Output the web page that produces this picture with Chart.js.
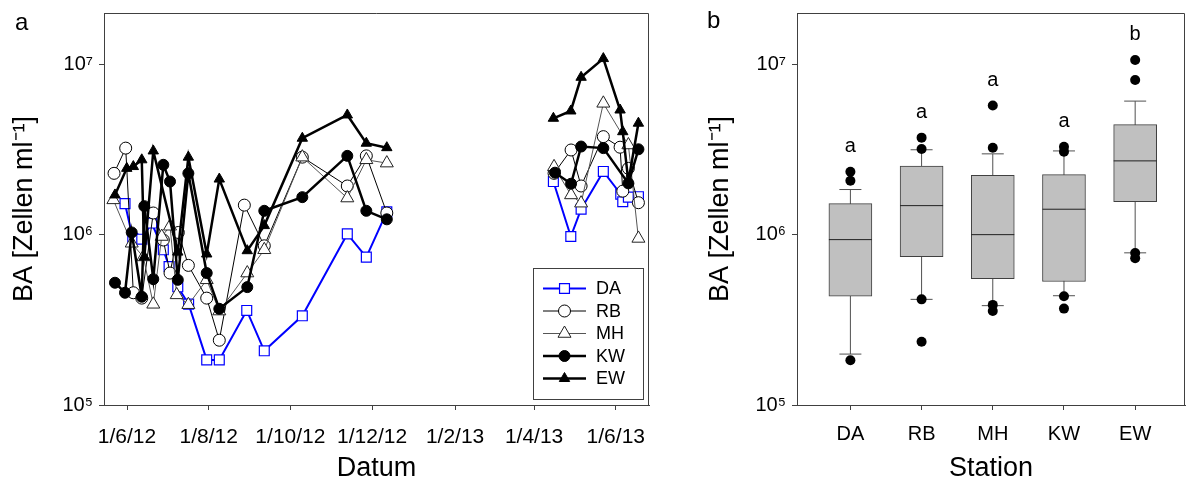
<!DOCTYPE html>
<html>
<head>
<meta charset="utf-8">
<script src="https://cdn.jsdelivr.net/npm/chart.js@4.4.1/dist/chart.umd.min.js"></script>
<style>
  body { margin: 0; background: #fff; }
  #wrap { position: relative; width: 1186px; height: 488px; overflow: hidden; }
  canvas { position: absolute; top: 0; }
  #left { left: 0; }
  #right { left: 690px; }
</style>
</head>
<body>
<div id="wrap">
  <canvas id="left" width="690" height="488"></canvas>
  <canvas id="right" width="496" height="488"></canvas>
</div>
<script>
// ---- panel a: days since 1/6/12 ----
const xTickDays = [0, 61, 122, 183, 245, 304, 365];
const xTickLabels = ['1/6/12', '1/8/12', '1/10/12', '1/12/12', '1/2/13', '1/4/13', '1/6/13'];
const yTickValues = [1e5, 1e6, 1e7];
const yTickLabels = ['10⁵', '10⁶', '10⁷'];

// null value = break between the 2012 and 2013 campaigns
const daDays = [-1.5, 4.3, 11.0, 18.4, 27.1, 31.4, 37.9, 46.0, 59.5, 68.9, 89.4, 102.5, 130.9, 164.5, 178.7, 194.0, 250, 318.4, 331.4, 339.1, 355.7, 368.7, 370.2, 374.4, 381.9];
const daVals = [1.52e6, 9.5e5, 9.4e5, 1.17e6, 8.15e5, 6.5e5, 4.94e5, 3.91e5, 1.84e5, 1.84e5, 3.59e5, 2.08e5, 3.34e5, 1.01e6, 7.38e5, 1.36e6, null, 2.05e6, 9.75e5, 1.41e6, 2.35e6, 1.73e6, 1.56e6, 1.66e6, 1.67e6];

const rbDays = [-9.7, -1.0, 4.7, 11.0, 19.6, 27.1, 32.1, 38.3, 45.8, 59.5, 68.9, 87.6, 102.5, 130.9, 164.5, 178.7, 194.0, 250, 318.9, 331.6, 339.1, 355.7, 368.2, 370.2, 374.4, 381.9];
const rbVals = [2.29e6, 3.22e6, 4.56e5, 4.24e5, 1.34e6, 9.3e5, 5.95e5, 1.03e6, 6.6e5, 4.24e5, 2.4e5, 1.49e6, 8.6e5, 2.85e6, 1.93e6, 2.9e6, 1.34e6, null, 2.29e6, 3.14e6, 1.93e6, 3.76e6, 3.26e6, 1.8e6, 2.45e6, 1.54e6];

const mhDays = [-10.2, 3.5, 12.2, 19.6, 25.9, 32.1, 37.1, 45.8, 59.5, 68.9, 89.8, 102.5, 130.9, 164.5, 178.7, 194.0, 250, 318.9, 331.6, 339.1, 355.7, 374.4, 381.9];
const mhVals = [1.6e6, 8.9e5, 7.4e5, 3.9e5, 9.75e5, 1.12e6, 4.43e5, 3.88e5, 5.43e5, 3.56e5, 5.95e5, 8.15e5, 2.85e6, 1.64e6, 2.75e6, 2.63e6, null, 2.5e6, 1.71e6, 1.53e6, 5.9e6, 3.36e6, 9.5e5];

const kwDays = [-9.0, -1.5, 3.5, 11.0, 12.9, 19.6, 27.1, 32.1, 37.9, 45.8, 59.5, 68.9, 89.8, 102.5, 130.9, 164.5, 178.7, 194.0, 250, 319.6, 331.6, 339.1, 355.7, 374.4, 381.9];
const kwVals = [5.22e5, 4.56e5, 1.03e6, 4.32e5, 1.47e6, 5.48e5, 2.57e6, 2.05e6, 5.43e5, 2.29e6, 5.95e5, 3.67e5, 4.92e5, 1.38e6, 1.66e6, 2.9e6, 1.38e6, 1.23e6, null, 2.31e6, 1.99e6, 3.29e6, 3.22e6, 2.0e6, 3.17e6];

const ewDays = [-9.0, -0.2, 4.7, 11.0, 12.9, 19.6, 37.9, 45.8, 59.5, 68.9, 89.8, 102.5, 130.9, 164.5, 178.7, 194.0, 250, 318.4, 331.4, 339.1, 355.7, 368.2, 370.2, 374.4, 381.9];
const ewVals = [1.71e6, 2.45e6, 2.51e6, 2.75e6, 7.4e5, 3.1e6, 7.9e5, 2.85e6, 7.7e5, 2.12e6, 8.05e5, 1.13e6, 3.68e6, 5.04e6, 3.44e6, 3.24e6, null, 4.82e6, 5.32e6, 8.39e6, 1.08e7, 5.39e6, 4.02e6, 2.05e6, 4.51e6];

// ---- panel b: box plot per station ----
const stations = ['DA', 'RB', 'MH', 'KW', 'EW'];
const q1 = [4.36e5, 7.43e5, 5.51e5, 5.31e5, 1.56e6];
const q3 = [1.52e6, 2.53e6, 2.23e6, 2.25e6, 4.42e6];
const medians = [9.35e5, 1.48e6, 1.0e6, 1.41e6, 2.71e6];
const whiskerLow = [1.99e5, 4.17e5, 3.83e5, 4.38e5, 7.82e5];
const whiskerHigh = [1.84e6, 3.15e6, 2.98e6, 3.10e6, 6.08e6];
const outliers = [
    [2.34e6, 2.07e6, 1.83e5],
    [3.71e6, 3.18e6, 4.17e5, 2.35e5],
    [5.73e6, 3.24e6, 3.87e5, 3.56e5],
    [3.28e6, 3.07e6, 4.35e5, 3.68e5],
    [1.06e7, 8.09e6, 7.8e5, 7.27e5]
];
const groupLetters = ['a', 'a', 'a', 'a', 'b'];

const FONT = '"Liberation Sans", Arial, sans-serif';
Chart.defaults.font.family = FONT;
Chart.defaults.color = '#000';
const AXIS = '#404040';

function toPoints(days, vals) {
    return days.map((d, i) => ({ x: d, y: vals[i] }));
}

// fixed axis box, no extra room for edge labels
function fixSize(prop, size) {
    return s => {
        s[prop] = size;
        s.paddingTop = 0;
        s.paddingBottom = 0;
        s.paddingLeft = 0;
        s.paddingRight = 0;
    };
}

function logAxis(width, titlePad) {
    return {
        type: 'logarithmic',
        min: 1e5,
        max: 2e7,
        afterBuildTicks: s => { s.ticks = yTickValues.map(v => ({ value: v })); },
        afterFit: fixSize('width', width),
        ticks: { callback: (v, i) => yTickLabels[i], font: { size: 20 }, padding: 6, autoSkip: false },
        grid: { drawOnChartArea: false, drawTicks: true, tickLength: 5, color: AXIS },
        border: { display: true, color: AXIS },
        title: { display: true, text: 'BA [Zellen ml⁻¹]', font: { size: 27 }, padding: { top: titlePad } }
    };
}

// top and right border of the plot box
const frame = {
    id: 'frame',
    afterDraw(chart) {
        const { ctx, chartArea: a } = chart;
        ctx.save();
        ctx.strokeStyle = AXIS;
        ctx.lineWidth = 1;
        ctx.beginPath();
        ctx.moveTo(a.left, Math.round(a.top) + 0.5);
        ctx.lineTo(Math.round(a.right) - 0.5, Math.round(a.top) + 0.5);
        ctx.lineTo(Math.round(a.right) - 0.5, a.bottom);
        ctx.stroke();
        ctx.restore();
    }
};

function panelLetter(letter, x, y) {
    return {
        id: 'letter' + letter,
        afterDraw(chart) {
            const ctx = chart.ctx;
            ctx.save();
            ctx.font = '24px ' + FONT;
            ctx.fillStyle = '#000';
            ctx.textBaseline = 'alphabetic';
            ctx.fillText(letter, x, y);
            ctx.restore();
        }
    };
}

function marker(ctx, ds, x, y) {
    const opts = { pointStyle: ds.pointStyle, radius: ds.pointRadius, borderWidth: ds.pointBorderWidth, rotation: 0 };
    ctx.fillStyle = ds.pointBackgroundColor;
    ctx.strokeStyle = ds.pointBorderColor;
    ctx.lineWidth = ds.pointBorderWidth;
    Chart.helpers.drawPoint(ctx, opts, x, y);
}

const boxLegend = {
    id: 'boxLegend',
    afterDraw(chart) {
        const ctx = chart.ctx;
        ctx.save();
        ctx.fillStyle = '#fff';
        ctx.fillRect(533.5, 268.5, 110, 131);
        ctx.strokeStyle = AXIS;
        ctx.lineWidth = 1;
        ctx.strokeRect(533.5, 268.5, 110, 131);
        chart.data.datasets.forEach((ds, i) => {
            const y = 288.5 + i * 22.5;
            ctx.strokeStyle = ds.borderColor;
            ctx.lineWidth = ds.borderWidth;
            ctx.beginPath();
            ctx.moveTo(543, y);
            ctx.lineTo(586, y);
            ctx.stroke();
            marker(ctx, ds, 564.5, y);
            ctx.fillStyle = '#000';
            ctx.font = '18px ' + FONT;
            ctx.textBaseline = 'middle';
            ctx.textAlign = 'left';
            ctx.fillText(ds.label, 596, y + 1);
        });
        ctx.restore();
    }
};

function series(label, days, vals, style) {
    return Object.assign({ label: label, data: toPoints(days, vals), showLine: true, spanGaps: false }, style);
}

new Chart(document.getElementById('left'), {
    type: 'scatter',
    data: {
        datasets: [
            series('DA', daDays, daVals, { order: 5, borderColor: '#0000ff', borderWidth: 2, pointStyle: 'rect', pointRadius: 7, pointBackgroundColor: '#fff', pointBorderColor: '#0000ff', pointBorderWidth: 1.2 }),
            series('RB', rbDays, rbVals, { order: 4, borderColor: '#000', borderWidth: 1, pointStyle: 'circle', pointRadius: 6, pointBackgroundColor: '#fff', pointBorderColor: '#000', pointBorderWidth: 1 }),
            series('MH', mhDays, mhVals, { order: 3, borderColor: '#555', borderWidth: 1, pointStyle: 'triangle', pointRadius: 7.5, pointBackgroundColor: '#fff', pointBorderColor: '#222', pointBorderWidth: 1 }),
            series('KW', kwDays, kwVals, { order: 2, borderColor: '#000', borderWidth: 2.5, pointStyle: 'circle', pointRadius: 5.5, pointBackgroundColor: '#000', pointBorderColor: '#000', pointBorderWidth: 1 }),
            series('EW', ewDays, ewVals, { order: 1, borderColor: '#000', borderWidth: 2.5, pointStyle: 'triangle', pointRadius: 6, pointBackgroundColor: '#000', pointBorderColor: '#000', pointBorderWidth: 1 })
        ]
    },
    options: {
        responsive: false,
        animation: false,
        events: [],
        layout: { autoPadding: false, padding: { top: 13, right: 41, left: 0, bottom: 0 } },
        plugins: { legend: { display: false }, tooltip: { enabled: false } },
        scales: {
            x: {
                type: 'linear',
                min: -17.2,
                max: 389.8,
                afterBuildTicks: s => { s.ticks = xTickDays.map(v => ({ value: v })); },
                afterFit: fixSize('height', 83),
                ticks: { callback: (v, i) => xTickLabels[i], font: { size: 21 }, padding: 15, autoSkip: false, maxRotation: 0 },
                grid: { drawOnChartArea: false, drawTicks: true, tickLength: 5, color: AXIS },
                border: { display: true, color: AXIS },
                title: { display: true, text: 'Datum', font: { size: 27 }, padding: { bottom: 3 } }
            },
            y: logAxis(104, 8)
        }
    },
    plugins: [frame, boxLegend, panelLetter('a', 15, 30)]
});

// ---- panel b ----
const whiskerPts = [];
const capPts = [];
stations.forEach((s, i) => {
    whiskerPts.push({ x: i + 1, y: whiskerLow[i] }, { x: i + 1, y: whiskerHigh[i] }, { x: i + 1, y: null });
    capPts.push({ x: i + 1, y: whiskerLow[i] }, { x: i + 1, y: whiskerHigh[i] });
});
const outlierPts = [];
outliers.forEach((list, i) => list.forEach(v => outlierPts.push({ x: i + 1, y: v })));

const letters = {
    id: 'groupLetters',
    afterDatasetsDraw(chart) {
        const { ctx, scales } = chart;
        ctx.save();
        ctx.font = '20px ' + FONT;
        ctx.fillStyle = '#000';
        ctx.textAlign = 'center';
        ctx.textBaseline = 'middle';
        stations.forEach((s, i) => {
            const top = Math.max(whiskerHigh[i], ...outliers[i]);
            ctx.fillText(groupLetters[i], scales.x.getPixelForValue(i + 1), scales.y.getPixelForValue(top) - 25);
        });
        ctx.restore();
    }
};

new Chart(document.getElementById('right'), {
    type: 'scatter',
    data: {
        datasets: [
            { type: 'line', data: whiskerPts, borderColor: '#505050', borderWidth: 1, pointRadius: 0, spanGaps: false, order: 5 },
            { type: 'bar', data: stations.map((s, i) => ({ x: i + 1, y: [q1[i], q3[i]] })), backgroundColor: '#c0c0c0', borderColor: '#404040', borderWidth: 1, borderSkipped: false, barThickness: 43, order: 4 },
            { data: capPts, pointStyle: 'line', pointRadius: 11, borderColor: '#505050', borderWidth: 1, order: 3 },
            { data: medians.map((v, i) => ({ x: i + 1, y: v })), pointStyle: 'line', pointRadius: 21.5, borderColor: '#202020', borderWidth: 1, order: 2 },
            { data: outlierPts, pointStyle: 'circle', pointRadius: 5, backgroundColor: '#000', borderColor: '#000', borderWidth: 0, order: 1 }
        ]
    },
    options: {
        responsive: false,
        animation: false,
        events: [],
        layout: { autoPadding: false, padding: { top: 13, right: 1, left: 0, bottom: 0 } },
        plugins: { legend: { display: false }, tooltip: { enabled: false } },
        scales: {
            x: {
                type: 'linear',
                min: 0.25,
                max: 5.7,
                offset: false,
                afterBuildTicks: s => { s.ticks = stations.map((n, i) => ({ value: i + 1 })); },
                afterFit: fixSize('height', 83),
                ticks: { callback: (v, i) => stations[i], font: { size: 20 }, padding: 12, autoSkip: false, maxRotation: 0 },
                grid: { drawOnChartArea: false, drawTicks: true, tickLength: 5, color: AXIS, offset: false },
                border: { display: true, color: AXIS },
                title: { display: true, text: 'Station', font: { size: 27 }, padding: { bottom: 3 } }
            },
            y: logAxis(107, 14)
        }
    },
    plugins: [frame, letters, panelLetter('b', 17, 28)]
});
</script>
</body>
</html>
